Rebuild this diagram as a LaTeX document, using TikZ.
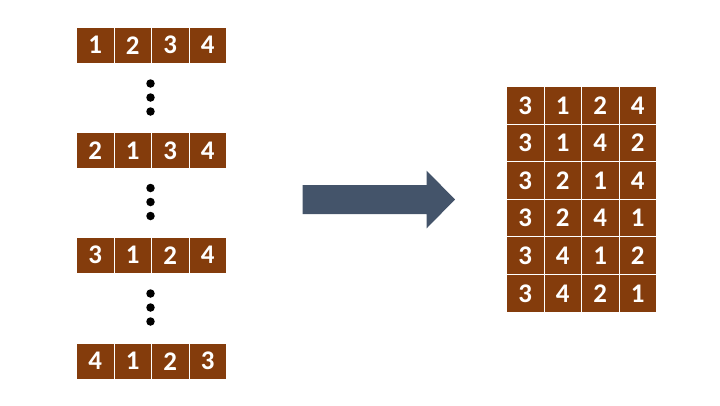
\documentclass[tikz,border=0pt]{standalone}
\usepackage{fontspec}
\setmainfont{Carlito}
\definecolor{cellbrown}{HTML}{843C0C}
\definecolor{arrowblue}{HTML}{44546A}
\begin{document}
\begin{tikzpicture}[x=1bp,y=-1bp,
  cell/.style={draw=white,line width=1bp,fill=cellbrown,text=white,minimum width=37.5bp,minimum height=36bp,inner sep=0pt,font=\fontsize{27}{30}\selectfont\bfseries,anchor=north west},
  rcell/.style={cell,minimum height=37.6bp},
  dot/.style={circle,fill=black,inner sep=0pt,minimum size=8.5bp}]
\useasboundingbox (0,0) rectangle (720,405);
% left rows
\foreach \r/\y/\a/\b/\c/\d in {1/26.7/1/2/3/4, 2/132/2/1/3/4, 3/236.7/3/1/2/4, 4/342.7/4/1/2/3}{
  \node[cell] (L\r c1) at (76,\y) {\a};
  \node[cell] (L\r c2) at (113.5,\y) {\b};
  \node[cell] (L\r c3) at (151,\y) {\c};
  \node[cell] (L\r c4) at (188.5,\y) {\d};
}
% dots
\foreach \g/\ya/\yb/\yc in {1/83.5/97.5/111.5, 2/188/202/216, 3/293.5/307.5/321.5}{
  \node[dot] (d\g a) at (150.5,\ya) {};
  \node[dot] (d\g b) at (150.5,\yb) {};
  \node[dot] (d\g c) at (150.5,\yc) {};
}
% right grid
\foreach \r/\a/\b/\c/\d [count=\i from 0] in {1/3/1/2/4, 2/3/1/4/2, 3/3/2/1/4, 4/3/2/4/1, 5/3/4/1/2, 6/3/4/2/1}{
  \node[rcell] (R\r c1) at (506,86+\i*37.6) {\a};
  \node[rcell] (R\r c2) at (543.5,86+\i*37.6) {\b};
  \node[rcell] (R\r c3) at (581,86+\i*37.6) {\c};
  \node[rcell] (R\r c4) at (618.5,86+\i*37.6) {\d};
}
% arrow
\fill[arrowblue] (302.7,185) -- (426.7,185) -- (426.7,170.7) -- (455,199.5) -- (426.7,228.3) -- (426.7,214) -- (302.7,214) -- cycle;
\end{tikzpicture}
\end{document}
